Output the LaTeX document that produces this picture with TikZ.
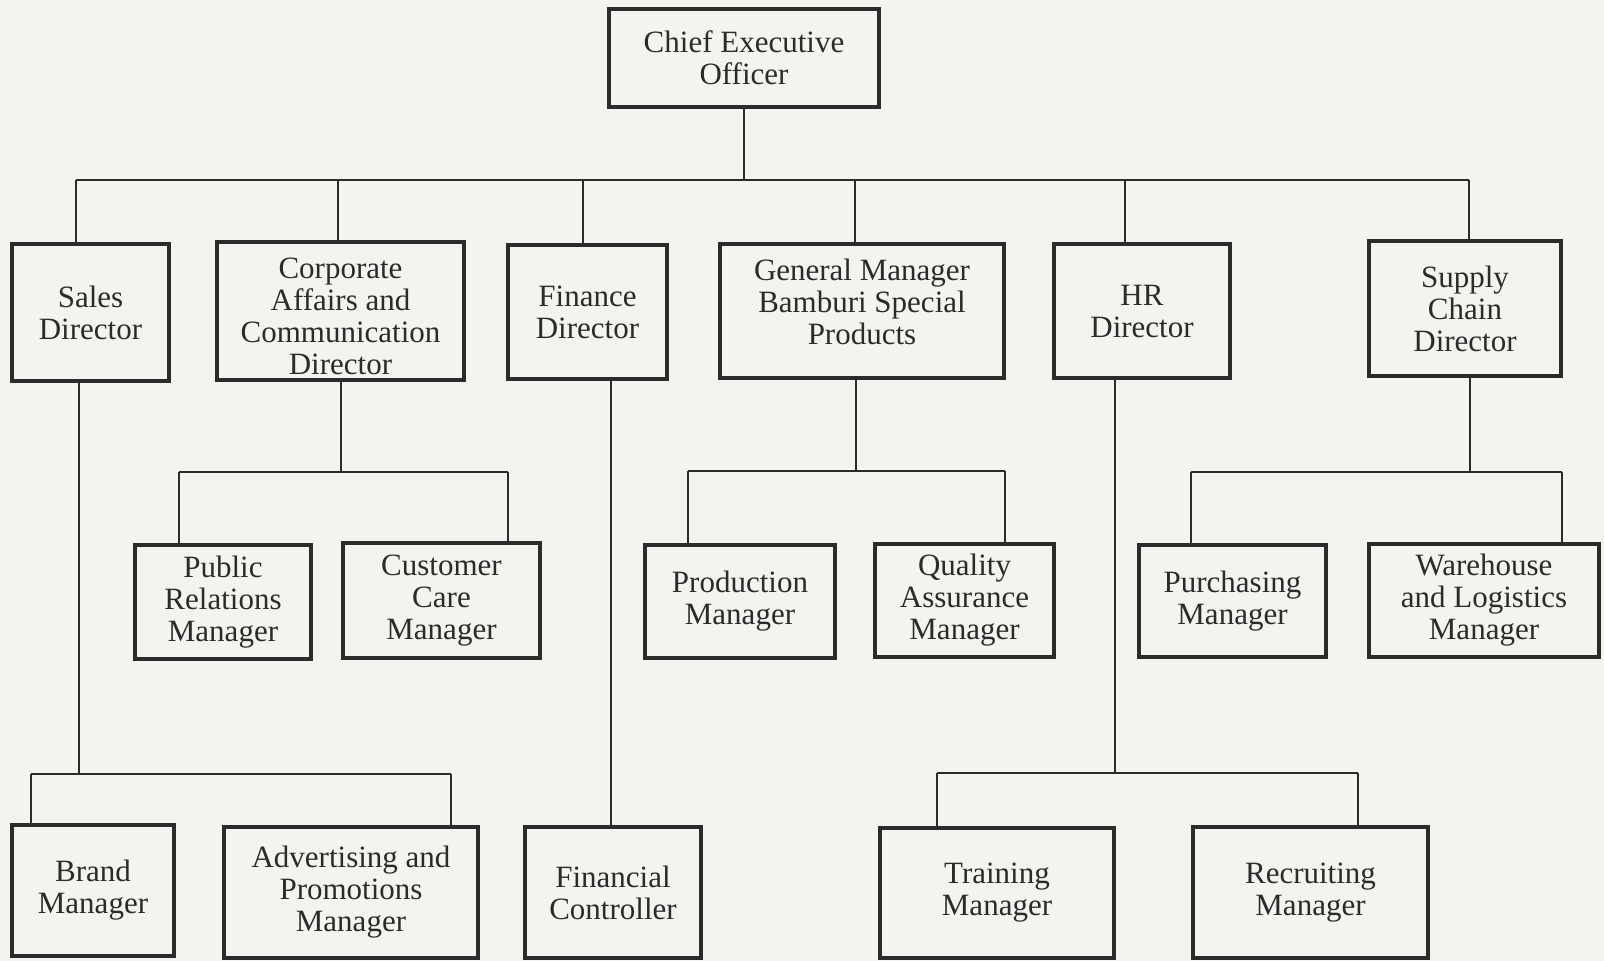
\documentclass[tikz,border=0pt]{standalone}
\usepackage{fontspec}
\setmainfont{Liberation Serif}
\definecolor{bg}{HTML}{F4F3F0}
\definecolor{ink}{HTML}{2B2B2B}
\newcommand\orgbox[6]{\node[box, minimum width={#4-#2-4}, minimum height={#5-#3-4}] (#1) at ({(#2+#4)/2},{(#3+#5)/2}) {#6};}
\begin{document}
\begin{tikzpicture}[x=1pt,y=-1pt,
 box/.style={draw=ink, line width=4.2pt, align=center, inner sep=0pt, text=ink, font=\fontsize{31}{32}\selectfont},
 wire/.style={draw=ink, line width=1.8pt}]
\fill[bg] (0,0) rectangle (1604,961);
\useasboundingbox (0,0) rectangle (1604,961);
% boxes
\orgbox{ceo}{607}{7}{881}{109}{Chief Executive\\Officer}
\orgbox{sales}{10}{242}{171}{383}{Sales\\Director}
\orgbox{corp}{215}{240}{466}{382}{Corporate\\Affairs and\\Communication\\Director\\[-42pt]\mbox{}}
\orgbox{fin}{506}{243}{669}{381}{Finance\\Director}
\orgbox{gm}{718}{242}{1006}{380}{General Manager\\Bamburi Special\\Products\\[-14pt]\mbox{}}
\orgbox{hr}{1052}{242}{1232}{380}{HR\\Director}
\orgbox{sup}{1367}{239}{1563}{378}{Supply\\Chain\\Director}
\orgbox{pr}{133}{543}{313}{661}{Public\\Relations\\Manager}
\orgbox{cc}{341}{541}{542}{660}{Customer\\Care\\Manager}
\orgbox{prod}{643}{543}{837}{660}{Production\\Manager}
\orgbox{qa}{873}{542}{1056}{659}{Quality\\Assurance\\Manager}
\orgbox{pur}{1137}{543}{1328}{659}{Purchasing\\Manager}
\orgbox{wh}{1367}{542}{1601}{659}{Warehouse\\and Logistics\\Manager}
\orgbox{brand}{10}{823}{176}{958}{Brand\\Manager}
\orgbox{adv}{222}{825}{480}{960}{Advertising and\\Promotions\\Manager}
\orgbox{fc}{523}{825}{703}{960}{Financial\\Controller}
\orgbox{tr}{878}{826}{1116}{960}{Training\\Manager}
\orgbox{rec}{1191}{825}{1430}{960}{Recruiting\\Manager}
% top bus
\coordinate (d1) at (76,180);
\coordinate (d2) at (338,180);
\coordinate (d3) at (583,180);
\coordinate (d4) at (855,180);
\coordinate (d5) at (1125,180);
\coordinate (d6) at (1469,180);
\draw[wire] (ceo.south) -- (ceo.south |- d1);
\draw[wire] (d1) -- (d6);
\draw[wire] (d1) -- (d1 |- sales.north);
\draw[wire] (d2) -- (d2 |- corp.north);
\draw[wire] (d3) -- (d3 |- fin.north);
\draw[wire] (d4) -- (d4 |- gm.north);
\draw[wire] (d5) -- (d5 |- hr.north);
\draw[wire] (d6) -- (d6 |- sup.north);
% corporate
\coordinate (cj) at (341,472);
\coordinate (cl) at (179,472);
\coordinate (cr) at (508,472);
\draw[wire] (cj |- corp.south) -- (cj);
\draw[wire] (cl) -- (cr);
\draw[wire] (cl) -- (cl |- pr.north);
\draw[wire] (cr) -- (cr |- cc.north);
% general manager
\coordinate (gj) at (856,471);
\coordinate (gl) at (688,471);
\coordinate (gr) at (1005,471);
\draw[wire] (gj |- gm.south) -- (gj);
\draw[wire] (gl) -- (gr);
\draw[wire] (gl) -- (gl |- prod.north);
\draw[wire] (gr) -- (gr |- qa.north);
% supply chain
\coordinate (sj) at (1470,472);
\coordinate (sl) at (1191,472);
\coordinate (sr) at (1562,472);
\draw[wire] (sj |- sup.south) -- (sj);
\draw[wire] (sl) -- (sr);
\draw[wire] (sl) -- (sl |- pur.north);
\draw[wire] (sr) -- (sr |- wh.north);
% sales
\coordinate (aj) at (79,774);
\coordinate (al) at (31,774);
\coordinate (ar) at (451,774);
\draw[wire] (aj |- sales.south) -- (aj);
\draw[wire] (al) -- (ar);
\draw[wire] (al) -- (al |- brand.north);
\draw[wire] (ar) -- (ar |- adv.north);
% finance
\coordinate (fj) at (611,600);
\draw[wire] (fj |- fin.south) -- (fj |- fc.north);
% hr
\coordinate (hj) at (1115,773);
\coordinate (hl) at (937,773);
\coordinate (hr2) at (1358,773);
\draw[wire] (hj |- hr.south) -- (hj);
\draw[wire] (hl) -- (hr2);
\draw[wire] (hl) -- (hl |- tr.north);
\draw[wire] (hr2) -- (hr2 |- rec.north);
\end{tikzpicture}
\end{document}
